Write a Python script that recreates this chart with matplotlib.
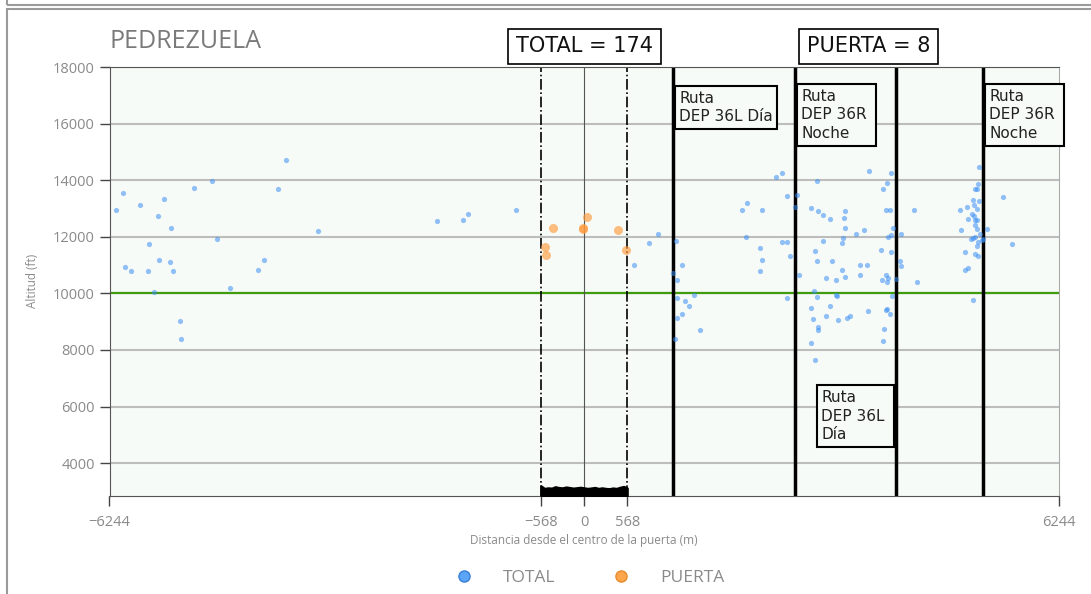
import numpy as np
import matplotlib.pyplot as plt
from matplotlib.lines import Line2D
from matplotlib.patches import Rectangle

# TOTAL points (distance m, altitude ft)
total_x = [-3922, -4896, -5132, -6062, -4024, -5523, -5843, -6162, -5606, -5439,
           -3501, -4830, -5724, -5589, -5452, -4208, -6044, -5961, -5741, -5405,
           -4291, -5658, -4663, -5320, -5303,
           -1932, -1594, -1524, -901, 967, 848, 651,
           1204, 1286, 1168, 1217, 1217, 1440, 1322, 1374, 1286, 1217, 1523, 1198,
           2080, 2145, 2335, 2128, 2316, 2335, 2316, 2519, 2602, 2667, 2803, 2773,
           2602, 2667, 2703, 2821, 2667, 3058, 2987, 3075, 3141, 3229, 3426, 3413,
           3430, 3408, 3395, 3141, 3579, 3680, 3746, 3036, 3058, 3259, 3628, 3716,
           3395, 3176, 3312, 3430, 3628, 3023, 3058, 3312, 3329, 3229, 2987, 3005,
           3176, 3342, 3461, 3496, 3733, 3075, 3075, 2987, 3040,
           4035, 3983, 3934, 3966, 4018, 4338, 4066, 4035, 4000, 4171, 3900, 4035,
           4154, 4171, 3966, 4000, 3917, 3983, 4101, 4386, 4052, 3983, 3966, 4018,
           3947, 3934,
           5202, 5184, 5149, 5167, 5202, 5114, 5505, 4947, 5031, 5131, 5167, 5097,
           5131, 5048, 5149, 5167, 5149, 5167, 4965, 5298, 5215, 5149, 5114, 5084,
           5232, 5249, 5184, 5167, 5636, 5013, 5149, 5184, 5048, 5013, 5114]
total_y = [14730, 13963, 13726, 13550, 13680, 13327, 13136, 12960, 12727, 12324,
           12197, 11925, 11738, 11194, 11102, 11194, 10925, 10784, 10784, 10784,
           10830, 10053, 10205, 9018, 8382,
           12550, 12596, 12819, 12960, 12091, 11784, 11007,
           11865, 11007, 10735, 10466, 9830, 9958, 9746, 9559, 9286, 9145, 8700, 8382,
           12960, 13186, 12960, 12006, 11596, 11194, 10784, 14125, 14267, 13454, 13490, 13045,
           11819, 11819, 11325, 10643, 9830, 13963, 13009, 12914, 12773, 12631, 12914, 12677,
           12324, 11960, 11773, 11865, 12091, 12232, 14316, 11501, 11148, 11148, 11007, 11007,
           10830, 10558, 10466, 10593, 10643, 10099, 9876, 9958, 9922, 9559, 9477, 9110,
           9195, 9064, 9145, 9195, 9382, 8827, 8700, 8252, 7651,
           14267, 13913, 13680, 12949, 12949, 12949, 12324, 12056, 12006, 12091, 11547, 11455,
           11148, 10961, 10643, 10558, 10466, 10417, 10512, 10417, 9922, 9463, 9428, 9286,
           8746, 8333,
           14457, 13868, 13680, 13680, 13278, 13313, 13408, 12960, 13045, 13136, 12995, 12819,
           12737, 12642, 12596, 12596, 12419, 12278, 12232, 12278, 12102, 12006, 11971, 11925,
           11879, 11925, 11830, 11688, 11738, 11466, 11384, 11335, 10890, 10841, 9781]

# PUERTA points
puerta_x = [-410, -12, -16, 41, 445, -516, -498, 550]
puerta_y = [12324, 12303, 12289, 12691, 12232, 11653, 11370, 11547]

# crossings at the gate (top of the black band)
gate_tops = [3200, 3110, 3130, 3120, 3170, 3140, 3130, 3160, 3140, 3120, 3135, 3150,
             3130, 3110, 3125, 3145, 3110, 3130, 3110, 3100, 3125, 3110, 3150, 3180, 3120]

half_gate = 568
x_lim = 6244
route_x = [1168, 2773, 4102, 5249]
n_total = 174
n_puerta = 8

gray = '#8a8a8a'
fig = plt.figure(figsize=(10.91, 5.94), dpi=100)
ax = fig.add_axes([109.5 / 1091, 1 - 495.7 / 594, 949.2 / 1091, 428.7 / 594])
ax.set_facecolor('#f6fbf7')

ax.set_xlim(-x_lim, x_lim)
ax.set_ylim(2850, 18000)

for yv in range(4000, 18001, 2000):
    ax.axhline(yv, color='#bdbdbd', lw=1.5, zorder=1)
ax.axhline(10000, color='#3f9c0e', lw=1.6, zorder=2)

ax.axvline(0, color='#555555', lw=0.8, zorder=2)
for xv in (-half_gate, half_gate):
    ax.axvline(xv, color='black', lw=1.2, ls='-.', zorder=2)
for xv in route_x:
    ax.axvline(xv, color='black', lw=2.5, zorder=2)

gx = np.linspace(-half_gate, half_gate, len(gate_tops))
ax.fill_between(gx, 2850, gate_tops, color='black', lw=1.5, edgecolor='black', zorder=3)

ax.scatter(total_x, total_y, s=14, color='#3a8ef5', alpha=0.55, lw=0, zorder=4)
ax.scatter(puerta_x, puerta_y, s=42, color='#ff9a3c', alpha=0.65, lw=0, zorder=5)

box_kw = dict(boxstyle='square,pad=0.3', fc='#f6fbf7', ec='black', lw=1.5)
txt_kw = dict(fontsize=11, color='#222222', family='DejaVu Sans', zorder=6,
              textcoords='offset points', linespacing=1.3, multialignment='left')
ax.annotate('Ruta\nDEP 36L Día', xy=(route_x[0], 17364), xytext=(4.5, -4), ha='left', va='top',
            bbox=box_kw, **txt_kw)
ax.annotate('Ruta\nDEP 36R \nNoche', xy=(route_x[1], 17424), xytext=(4.5, -4), ha='left', va='top',
            bbox=box_kw, **txt_kw)
ax.annotate('Ruta\nDEP 36R \nNoche', xy=(route_x[3], 17424), xytext=(4.5, -4), ha='left', va='top',
            bbox=box_kw, annotation_clip=False, **txt_kw)
ax.annotate('Ruta\nDEP 36L \nDía', xy=(route_x[2], 6779), xytext=(-4.5, -4), ha='right', va='top',
            bbox=box_kw, **txt_kw)

cnt_box = dict(boxstyle='square,pad=0.38', fc='white', ec='black', lw=1.2)
ax.text(0.5, 1.048, f'TOTAL = {n_total}', transform=ax.transAxes, ha='center', va='center',
        fontsize=15, family='DejaVu Sans', color='#111111', bbox=cnt_box)
ax.text(0.8, 1.048, f'PUERTA = {n_puerta}', transform=ax.transAxes, ha='center', va='center',
        fontsize=15, family='DejaVu Sans', color='#111111', bbox=cnt_box)

ax.set_yticks(range(4000, 18001, 2000))
ax.set_xticks([-x_lim, -half_gate, 0, half_gate, x_lim])
ax.set_xticklabels(['\u22126244', '\u2212568', '0', '568', '6244'])
ax.tick_params(length=7, width=1, color='#444444', labelcolor=gray, labelsize=10.5)
ax.tick_params(axis='x', pad=7)
for lab in ax.get_xticklabels() + ax.get_yticklabels():
    lab.set_family('Open Sans')
ax.set_ylabel('Altitud (ft)', fontsize=8.5, color=gray, family='Open Sans', labelpad=10)
ax.set_xlabel('Distancia desde el centro de la puerta (m)', fontsize=8.5, color=gray,
              family='Open Sans', labelpad=3)
for side in ('left', 'bottom', 'top'):
    ax.spines[side].set_color('#555555')
ax.spines['right'].set_color('#aaaaaa')

fig.text(110 / 1091, 1 - 42 / 594, 'PEDREZUELA', fontsize=18, color='#7a7a7a',
         family='Open Sans', ha='left', va='center')

handles = [Line2D([], [], ls='', marker='o', ms=8, mfc='#5aa5f7', mec='#3a7fd9', mew=1),
           Line2D([], [], ls='', marker='o', ms=8, mfc='#ffa64d', mec='#e88a2a', mew=1)]
leg = fig.legend(handles, ['TOTAL', 'PUERTA'], loc='center', ncol=2, frameon=False,
                 bbox_to_anchor=(590 / 1091, 1 - 578 / 594), handlelength=1,
                 handletextpad=1.75, columnspacing=3.3,
                 prop={'family': 'Open Sans', 'size': 12.5})
for t in leg.get_texts():
    t.set_color(gray)

# outer frames
fig.add_artist(Rectangle((7 / 1091, 1 - 600 / 594), 1.1, (600 - 9) / 594, transform=fig.transFigure,
                         fill=False, ec='#9a9a9a', lw=1.5))
fig.add_artist(Rectangle((7 / 1091, 1 - 4.5 / 594), 1.1, 0.05, transform=fig.transFigure,
                         fill=False, ec='#9a9a9a', lw=1.5))

fig.savefig('out.png', dpi=100)
